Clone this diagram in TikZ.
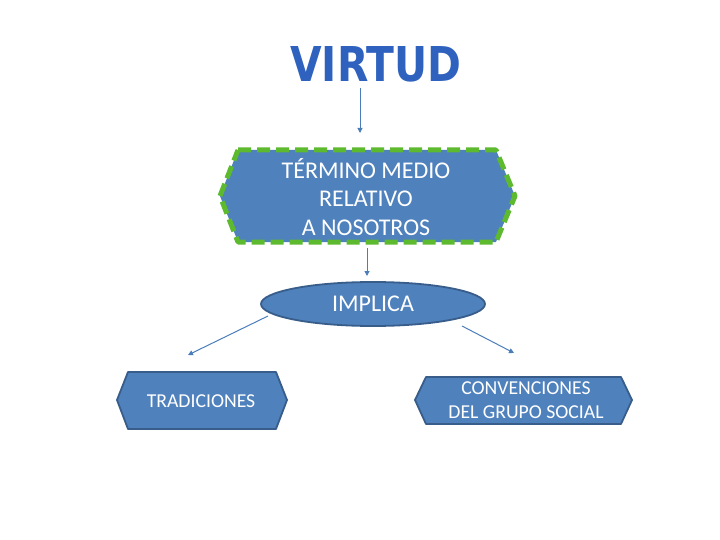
\documentclass[tikz,border=0pt]{standalone}
\usepackage{fontspec}
\setmainfont{Carlito}
\newfontfamily\titlefont{DejaVu Sans}
\usetikzlibrary{shapes.geometric,arrows.meta}
\definecolor{boxfill}{HTML}{4F81BD}
\definecolor{boxline}{HTML}{385D8A}
\definecolor{dashgreen}{HTML}{5DB92E}
\definecolor{arrowc}{HTML}{4A7EBB}
\definecolor{titleblue}{HTML}{2F62BE}
\tikzset{
  hexbox/.style={fill=boxfill, draw=boxline, line width=1.8pt, line join=round},
  greenhex/.style={fill=boxfill, draw=dashgreen, line width=5pt, dash pattern=on 13pt off 6pt, line join=round},
  conn/.style={draw=arrowc, line width=1pt, -{Triangle[length=5pt,width=5pt]}},
  boxtext/.style={text=white, align=center, inner sep=0pt},
}
\begin{document}
\begin{tikzpicture}[x=1pt,y=-1pt]
\useasboundingbox (0,0) rectangle (720,540);
% title
\node[inner sep=0pt, text=titleblue, font=\titlefont\bfseries\fontsize{48}{48}\selectfont] (title) at (376,64) {\scalebox{0.85}[1]{VIRTUD}};
% hexagon 1
\path[greenhex] (238,150) -- (496,150) -- (515,196) -- (496,242) -- (238,242) -- (220,196) -- cycle;
\node[boxtext, font=\fontsize{24}{28.5}\selectfont] (tm) at (366,197) {TÉRMINO MEDIO\\RELATIVO\\A NOSOTROS};
\coordinate (tmbot) at (367,248);
% ellipse
\node[ellipse, fill=boxfill, draw=boxline, line width=1.8pt, minimum width=224pt, minimum height=44pt, text=white, font=\fontsize{24}{24}\selectfont] (impl) at (373,304) {IMPLICA};
% left hexagon
\path[hexbox] (128,372) -- (276,372) -- (287,400) -- (276,429) -- (128,429) -- (117,400) -- cycle;
\node[boxtext, font=\fontsize{19.7}{22}\selectfont] (trad) at (201,401) {TRADICIONES};
% right hexagon
\path[hexbox] (426,377) -- (621,377) -- (632,400) -- (621,424) -- (426,424) -- (415,400) -- cycle;
\node[boxtext, font=\fontsize{19.7}{24}\selectfont] (conv) at (526,400) {CONVENCIONES\\DEL GRUPO SOCIAL};
% connectors
\coordinate (a1s) at (360,88);
\coordinate (a1e) at (360,133);
\draw[conn] (a1s) -- (a1e);
\coordinate (a2e) at (367,276);
\draw[conn] (tmbot) -- (a2e);
\coordinate (l1) at (268,316);
\coordinate (l2) at (188,355);
\draw[conn] (l1) -- (l2);
\coordinate (r1) at (462,326);
\coordinate (r2) at (514,353);
\draw[conn] (r1) -- (r2);
\end{tikzpicture}
\end{document}
